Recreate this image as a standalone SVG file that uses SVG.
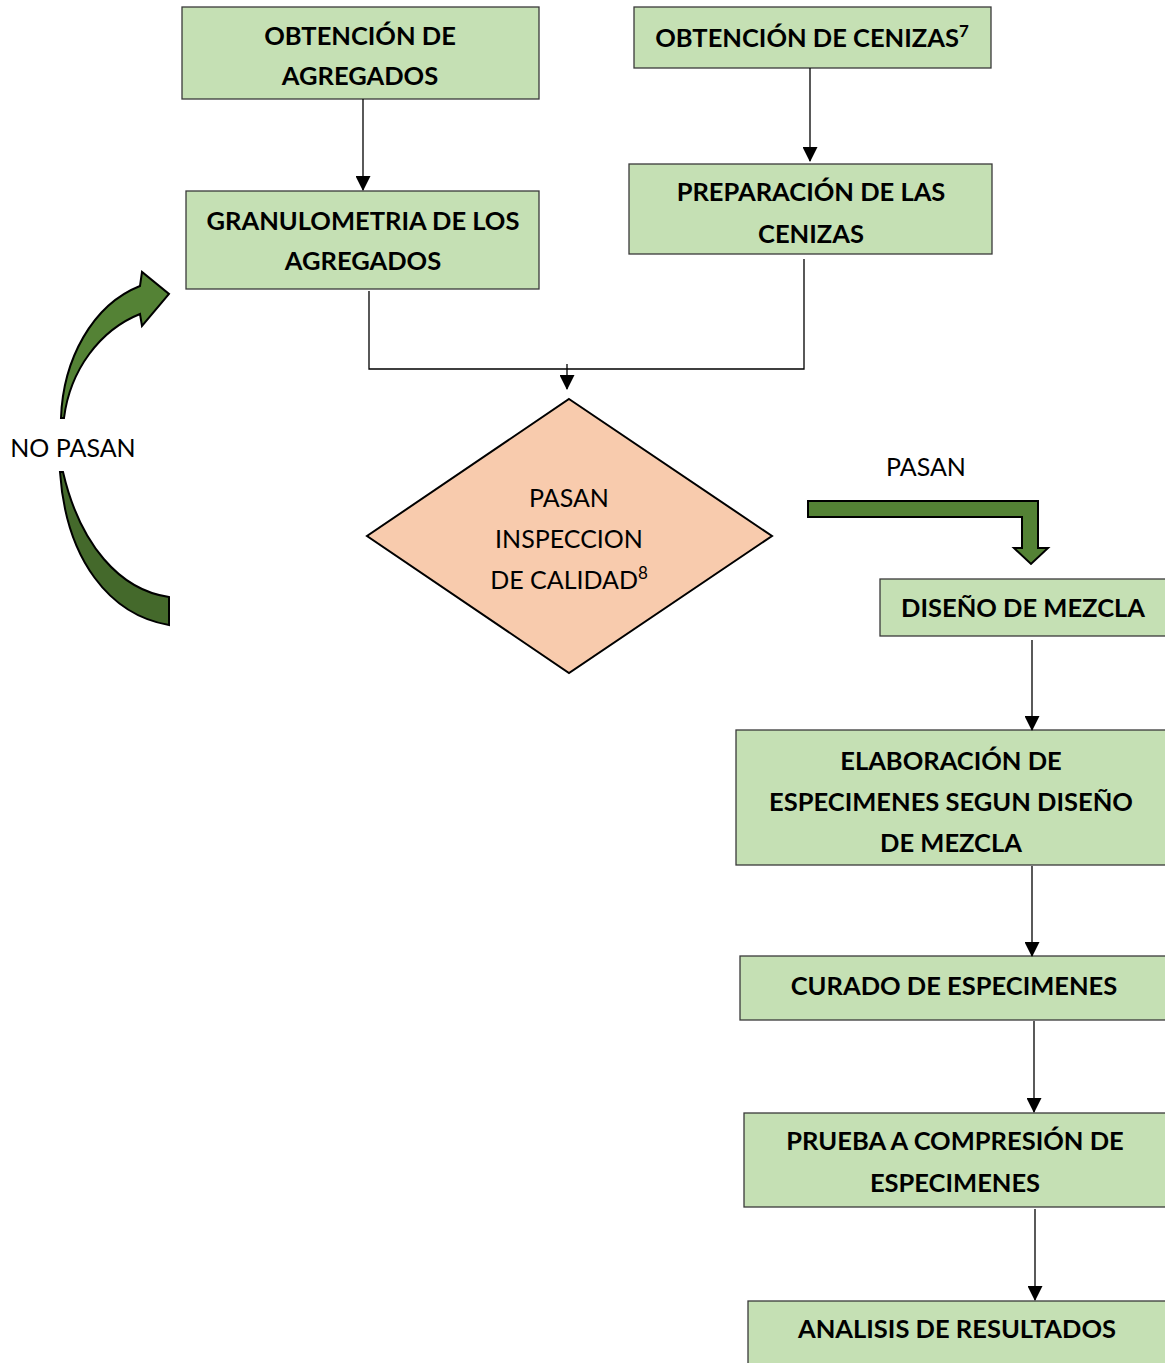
<svg xmlns="http://www.w3.org/2000/svg" width="1165" height="1363" viewBox="0 0 1165 1363">
<style>
.box{fill:#C5E0B4;stroke:#3a3a3a;stroke-width:1.3}
.dia{fill:#F8CBAD;stroke:#000;stroke-width:2}
.t{font-family:Lato,"Open Sans","Liberation Sans",sans-serif;font-weight:bold;font-size:25.5px;fill:#000;text-anchor:middle}
.n{font-family:Lato,"Open Sans","Liberation Sans",sans-serif;font-weight:normal;font-size:25px;fill:#000;text-anchor:middle}
.sup{font-size:17px}
.c{fill:none;stroke:#000;stroke-width:1.3}
.g{stroke:#000;stroke-width:2;stroke-linejoin:miter}
</style>
<defs>
<marker id="ah" markerWidth="15" markerHeight="15" refX="14" refY="7.5" orient="auto" markerUnits="userSpaceOnUse">
<path d="M0,0 L15,7.5 L0,15 Z" fill="#000"/>
</marker>
</defs>
<rect width="1165" height="1363" fill="#fff"/>

<g id="n1"><rect class="box" x="182" y="7" width="357" height="92"/>
<text class="t" x="360" y="45">OBTENCIÓN DE</text><text class="t" x="360" y="85">AGREGADOS</text></g>

<g id="n2"><rect class="box" x="634" y="7" width="357" height="61"/>
<text class="t" x="812" y="47">OBTENCIÓN DE CENIZAS<tspan class="sup" dy="-10">7</tspan></text></g>

<g id="n3"><rect class="box" x="186" y="191" width="353" height="98"/>
<text class="t" x="363" y="230">GRANULOMETRIA DE LOS</text><text class="t" x="363" y="270">AGREGADOS</text></g>

<g id="n4"><rect class="box" x="629" y="164" width="363" height="90"/>
<text class="t" x="811" y="201">PREPARACIÓN DE LAS</text><text class="t" x="811" y="243">CENIZAS</text></g>

<g id="n5"><polygon class="dia" points="569,399 772,536 569,673 367,536"/>
<text class="n" x="569" y="507">PASAN</text><text class="n" x="569" y="548">INSPECCION</text>
<text class="n" x="569" y="589">DE CALIDAD<tspan class="sup" dy="-10">8</tspan></text></g>

<g id="n6"><rect class="box" x="880" y="579" width="295" height="57"/>
<text class="t" x="1023" y="617">DISEÑO DE MEZCLA</text></g>

<g id="n7"><rect class="box" x="736" y="730" width="439" height="135"/>
<text class="t" x="951" y="770">ELABORACIÓN DE</text><text class="t" x="951" y="811">ESPECIMENES SEGUN DISEÑO</text><text class="t" x="951" y="852">DE MEZCLA</text></g>

<g id="n8"><rect class="box" x="740" y="956" width="435" height="64"/>
<text class="t" x="954" y="995">CURADO DE ESPECIMENES</text></g>

<g id="n9"><rect class="box" x="744" y="1113" width="431" height="94"/>
<text class="t" x="955" y="1150">PRUEBA A COMPRESIÓN DE</text><text class="t" x="955" y="1192">ESPECIMENES</text></g>

<g id="n10"><rect class="box" x="748" y="1301" width="427" height="70"/>
<text class="t" x="957" y="1338">ANALISIS DE RESULTADOS</text></g>

<g id="labels">
<text class="n" x="73" y="457">NO PASAN</text>
<text class="n" x="926" y="476">PASAN</text>
</g>

<g id="connectors">
<line class="c" x1="363" y1="99" x2="363" y2="190" marker-end="url(#ah)"/>
<line class="c" x1="810" y1="68" x2="810" y2="161" marker-end="url(#ah)"/>
<polyline class="c" points="369,291 369,369 804,369 804,259"/>
<line class="c" x1="567" y1="364" x2="567" y2="389" marker-end="url(#ah)"/>
<line class="c" x1="1032" y1="640" x2="1032" y2="730" marker-end="url(#ah)"/>
<line class="c" x1="1032" y1="866" x2="1032" y2="956" marker-end="url(#ah)"/>
<line class="c" x1="1034" y1="1021" x2="1034" y2="1112" marker-end="url(#ah)"/>
<line class="c" x1="1035" y1="1209" x2="1035" y2="1300" marker-end="url(#ah)"/>
<path class="g" fill="#548235" d="M808,501 L1038,501 L1038,548 L1048,548 L1031,564 L1014,548 L1022,548 L1022,517 L808,517 Z"/>
<path class="g" fill="#548235" d="M61,418 C63,360 92,305 140,286 L142,272 L169,294 L142,326 L140,314 C100,330 70,370 64,418 Z"/>
<path class="g" fill="#44692B" d="M60,472 C66,560 110,615 169,625 L169,597 C120,590 80,545 63,472 Z"/>
</g>
</svg>
